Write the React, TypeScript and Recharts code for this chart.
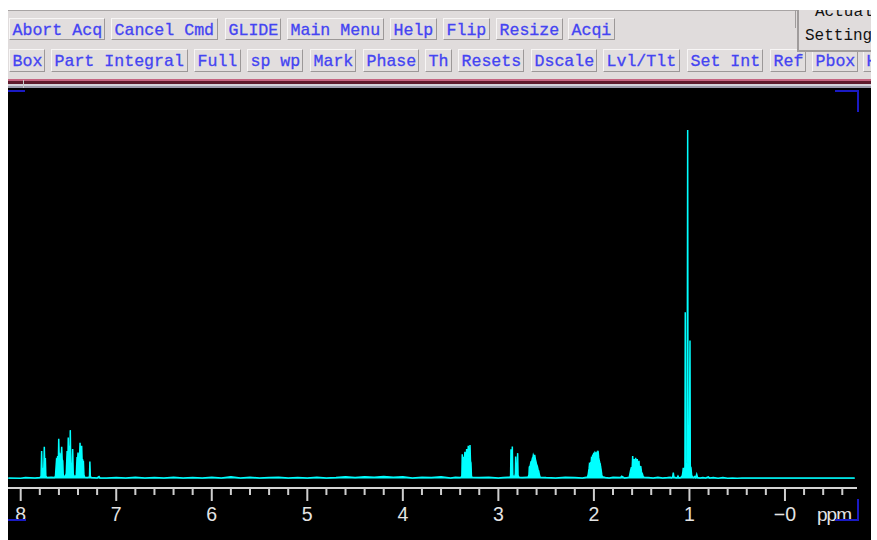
import React from "react";
import { AreaChart, Area, XAxis, YAxis } from "recharts";

// ---- spectrum data: [shift (ppm), intensity (tallest line = 100)] ----
const aromatic: [number, number][] = [
  [8.13, 0.2], [8.0, 0.1], [7.95, 0.3], [7.85, 0.2], [7.8, 0.3],
  [7.787, 0.6], [7.781, 7.9], [7.776, 2.5], [7.767, 2.8], [7.758, 3.0],
  [7.753, 9.1], [7.748, 4.0], [7.742, 5.9], [7.737, 0.8], [7.725, 0.3],
  [7.68, 0.4], [7.645, 0.3], [7.636, 0.8], [7.625, 5.4], [7.617, 5.0],
  [7.613, 6.5], [7.605, 6.0], [7.602, 11.4], [7.597, 6.0], [7.592, 7.4],
  [7.586, 5.5], [7.581, 6.5], [7.576, 5.8], [7.571, 9.1], [7.566, 5.5],
  [7.56, 5.1], [7.555, 1.2], [7.545, 0.5], [7.53, 0.8], [7.523, 1.5],
  [7.514, 7.9], [7.508, 2.0], [7.502, 11.8], [7.496, 2.5], [7.491, 9.4],
  [7.486, 2.5], [7.481, 13.9], [7.475, 1.5], [7.47, 4.5], [7.463, 1.0],
  [7.456, 8.5], [7.45, 1.2], [7.44, 0.7], [7.425, 0.6], [7.418, 1.2],
  [7.41, 6.2], [7.405, 5.0], [7.4, 7.5], [7.395, 5.2], [7.39, 6.8],
  [7.385, 5.4], [7.379, 10.3], [7.374, 5.5], [7.369, 7.9], [7.365, 5.6],
  [7.362, 9.4], [7.357, 5.0], [7.353, 5.6], [7.347, 4.5], [7.344, 5.1],
  [7.338, 1.0], [7.33, 0.4], [7.3, 0.3], [7.28, 0.5], [7.276, 4.9],
  [7.271, 0.6], [7.26, 0.3], [7.2, 0.2], [7.18, 0.6], [7.17, 0.2],
];

const midField: [number, number][] = [
  [7.1, 0.2], [7.0, 0.3], [6.9, 0.2], [6.8, 0.4], [6.7, 0.2], [6.6, 0.3],
  [6.5, 0.2], [6.4, 0.4], [6.3, 0.2], [6.2, 0.3], [6.1, 0.2], [6.0, 0.4],
  [5.9, 0.2], [5.8, 0.5], [5.7, 0.2], [5.6, 0.4], [5.5, 0.2], [5.4, 0.3],
  [5.3, 0.4], [5.2, 0.2], [5.1, 0.3], [5.0, 0.2], [4.9, 0.4], [4.8, 0.2],
  [4.7, 0.3], [4.6, 0.5], [4.5, 0.3], [4.4, 0.5], [4.3, 0.4], [4.2, 0.6],
  [4.1, 0.4], [4.0, 0.5], [3.9, 0.2], [3.8, 0.4], [3.7, 0.3], [3.6, 0.5],
  [3.5, 0.2], [3.45, 0.4], [3.4, 0.3],
];

const multiplet33: [number, number][] = [
  [3.39, 0.4], [3.382, 0.8], [3.378, 7.0], [3.373, 5.0], [3.367, 5.6],
  [3.363, 5.2], [3.36, 6.2], [3.355, 5.4], [3.35, 7.7], [3.345, 5.4],
  [3.339, 5.6], [3.336, 5.5], [3.332, 8.5], [3.328, 5.8], [3.324, 6.5],
  [3.32, 6.0], [3.315, 9.4], [3.31, 6.0], [3.306, 6.5], [3.302, 6.0],
  [3.297, 9.6], [3.292, 5.0], [3.287, 4.5], [3.282, 0.8], [3.276, 0.4],
  [3.2, 0.3], [3.1, 0.4], [3.0, 0.2], [2.95, 0.3], [2.9, 0.4],
];

const multiplet285: [number, number][] = [
  [2.878, 0.4], [2.872, 0.8], [2.868, 8.4], [2.864, 3.6], [2.86, 3.6],
  [2.857, 3.8], [2.854, 9.2], [2.849, 1.0], [2.84, 0.5], [2.826, 0.8],
  [2.822, 1.5], [2.819, 6.3], [2.815, 2.8], [2.81, 2.8], [2.803, 2.5],
  [2.798, 7.3], [2.794, 0.9], [2.785, 0.4], [2.75, 0.3], [2.7, 0.4],
];

const multiplet263: [number, number][] = [
  [2.69, 0.4], [2.68, 1.0], [2.676, 3.3], [2.667, 3.6], [2.659, 4.8],
  [2.65, 5.0], [2.643, 5.9], [2.638, 6.0], [2.634, 6.7], [2.627, 6.2],
  [2.62, 6.8], [2.613, 5.6], [2.606, 4.8], [2.6, 4.0], [2.593, 3.6],
  [2.585, 2.6], [2.578, 2.2], [2.57, 1.0], [2.562, 0.4], [2.5, 0.3],
  [2.4, 0.2], [2.3, 0.4], [2.2, 0.3], [2.12, 0.2], [2.08, 0.4],
];

const multiplet20: [number, number][] = [
  [2.067, 0.4], [2.059, 1.3], [2.05, 3.0], [2.046, 4.2], [2.04, 4.0],
  [2.034, 4.6], [2.028, 4.8], [2.025, 5.9], [2.02, 5.8], [2.014, 6.5],
  [2.008, 6.3], [2.003, 7.1], [1.996, 6.9], [1.989, 7.5], [1.982, 7.2],
  [1.976, 7.3], [1.97, 7.2], [1.965, 7.6], [1.96, 7.3], [1.955, 7.5],
  [1.95, 6.0], [1.944, 5.1], [1.939, 4.6], [1.934, 4.2], [1.93, 3.4],
  [1.926, 2.8], [1.918, 1.2], [1.912, 0.5], [1.88, 0.3], [1.84, 0.2],
  [1.8, 0.4], [1.72, 0.3], [1.709, 0.7], [1.68, 0.2], [1.65, 0.3],
];

const multiplet155: [number, number][] = [
  [1.63, 0.4], [1.617, 2.2], [1.607, 3.3], [1.6, 2.5], [1.594, 6.5],
  [1.589, 3.0], [1.586, 3.3], [1.577, 5.6], [1.572, 3.0], [1.568, 3.3],
  [1.563, 6.0], [1.558, 3.0], [1.553, 3.3], [1.546, 5.6], [1.541, 2.6],
  [1.536, 2.8], [1.528, 5.1], [1.524, 2.5], [1.52, 2.8], [1.51, 3.6],
  [1.502, 1.9], [1.492, 1.3], [1.485, 0.6], [1.476, 0.4], [1.43, 0.3],
  [1.38, 0.2], [1.33, 0.4], [1.28, 0.2], [1.23, 0.3], [1.2, 0.4],
  [1.19, 0.2], [1.175, 0.5], [1.169, 1.7], [1.163, 0.5], [1.15, 0.3],
  [1.13, 0.2], [1.12, 0.7], [1.11, 0.2], [1.09, 0.3], [1.075, 0.8],
];

const methylLines: [number, number][] = [
  [1.068, 2.0], [1.0645, 3.1], [1.058, 2.0], [1.05, 2.5], [1.047, 3.5],
  [1.0435, 47.7], [1.04, 3.0], [1.033, 2.5], [1.029, 2.7], [1.024, 4.5],
  [1.0184, 100], [1.015, 5.0], [1.012, 6.0], [1.002, 3.5], [0.9943, 39.6],
  [0.991, 3.5], [0.984, 3.1], [0.977, 1.0], [0.97, 0.5], [0.96, 0.3],
  [0.945, 0.6], [0.935, 0.3], [0.924, 1.2], [0.915, 0.3], [0.89, 0.2],
  [0.86, 0.3], [0.83, 0.2], [0.803, 0.5], [0.79, 0.2],
];

const upfield: [number, number][] = [
  [0.75, 0.3], [0.7, 0.1], [0.65, 0.3], [0.6, 0.1], [0.55, 0.2],
  [0.5, 0.1], [0.45, 0.2], [0.4, 0.2], [0.2, 0.2], [0.0, 0.2],
  [-0.2, 0.2], [-0.4, 0.2], [-0.6, 0.2], [-0.73, 0.2],
];

const majorTicks = [8, 7, 6, 5, 4, 3, 2, 1, 0];
const allTicks = [
  8, 7.8, 7.6, 7.4, 7.2, 7, 6.8, 6.6, 6.4, 6.2, 6, 5.8, 5.6, 5.4, 5.2, 5,
  4.8, 4.6, 4.4, 4.2, 4, 3.8, 3.6, 3.4, 3.2, 3, 2.8, 2.6, 2.4, 2.2, 2, 1.8,
  1.6, 1.4, 1.2, 1, 0.8, 0.6, 0.4, 0.2, 0, -0.2, -0.4, -0.6,
];

const row1 = [
  { label: "Abort Acq", x: 9, w: 96 },
  { label: "Cancel Cmd", x: 111, w: 107 },
  { label: "GLIDE", x: 225, w: 56 },
  { label: "Main Menu", x: 287, w: 97 },
  { label: "Help", x: 390, w: 47 },
  { label: "Flip", x: 443, w: 47 },
  { label: "Resize", x: 496, w: 67 },
  { label: "Acqi", x: 568, w: 47 },
];
const row2 = [
  { label: "Box", x: 9, w: 36 },
  { label: "Part Integral", x: 51, w: 137 },
  { label: "Full", x: 194, w: 47 },
  { label: "sp wp", x: 247, w: 56 },
  { label: "Mark", x: 310, w: 46 },
  { label: "Phase", x: 363, w: 56 },
  { label: "Th", x: 425, w: 27 },
  { label: "Resets", x: 458, w: 66 },
  { label: "Dscale", x: 531, w: 66 },
  { label: "Lvl/Tlt", x: 603, w: 77 },
  { label: "Set Int", x: 687, w: 76 },
  { label: "Ref", x: 770, w: 36 },
  { label: "Pbox", x: 812, w: 46 },
  { label: "Hold", x: 863, w: 46 },
];

const spectrum = [
  ...aromatic, ...midField, ...multiplet33, ...multiplet285, ...multiplet263,
  ...multiplet20, ...multiplet155, ...methylLines, ...upfield,
]
  .sort((a, b) => b[0] - a[0])
  .map(([ppm, intensity]) => ({ ppm, intensity }));

const MONO = "'Liberation Mono', 'DejaVu Sans Mono', monospace";
const SANS = "'Liberation Sans', Arial, sans-serif";
const BLUE = "#1a1ac4";

function ToolButton({ label, x, y, w, h }: { label: string; x: number; y: number; w: number; h: number }) {
  return (
    <div
      style={{
        position: "absolute",
        left: x,
        top: y,
        width: w,
        height: h,
        boxSizing: "border-box",
        background: "#e2dede",
        borderTop: "1px solid #f8f6f6",
        borderLeft: "1px solid #f8f6f6",
        borderRight: "1px solid #9c9898",
        borderBottom: "1px solid #9c9898",
        color: "#4444f2",
        fontFamily: MONO,
        fontSize: 16.6,
        lineHeight: "20px",
        paddingTop: 1.6,
        paddingLeft: 2.5,
        whiteSpace: "pre",
        overflow: "hidden",
        WebkitTextStroke: "0.3px #4444f2",
      }}
    >
      {label}
    </div>
  );
}

function PpmTick(props: any) {
  const { x, y, payload } = props;
  const v = payload.value as number;
  const major = majorTicks.includes(v);
  return (
    <g>
      <line x1={x} x2={x} y1={y} y2={y + (major ? 13 : 7)} stroke="#cfcfcf" strokeWidth={2} />
      {major && (
        <text x={x} y={y + 33} textAnchor="middle" fill="#e4e4e4" fontSize={19.5} fontFamily={SANS}>
          {v === 0 ? "−0" : String(v)}
        </text>
      )}
    </g>
  );
}

function Line({ l, t, w, h, c }: { l: number; t: number; w: number; h: number; c: string }) {
  return <div style={{ position: "absolute", left: l, top: t, width: w, height: h, background: c }} />;
}

export default function App() {
  return (
    <div
      style={{
        position: "fixed",
        left: 0,
        top: 0,
        width: 877,
        height: 540,
        overflow: "hidden",
        background: "#ffffff",
      }}
    >
      {/* toolbar, clipped at the window edge like the original */}
      <div
        style={{
          position: "absolute",
          left: 0,
          top: 0,
          width: 871,
          height: 88,
          overflow: "hidden",
        }}
      >
        <div
          style={{
            position: "absolute",
            left: 8,
            top: 10,
            width: 863,
            height: 69,
            background: "#e0dcdc",
            borderTop: "1px solid #a8a4a4",
            boxSizing: "border-box",
          }}
        />
        {row1.map((b) => (
          <ToolButton key={b.label} label={b.label} x={b.x} y={18} w={b.w} h={22} />
        ))}
        {row2.map((b) => (
          <ToolButton key={b.label} label={b.label} x={b.x} y={49} w={b.w} h={23} />
        ))}

        {/* Actual / Setting box */}
        <div
          style={{
            position: "absolute",
            left: 797,
            top: 10,
            width: 80,
            height: 42,
            boxSizing: "border-box",
            background: "#e0dcdc",
            borderLeft: "2px solid #a09c9c",
            borderBottom: "2px solid #a09c9c",
            overflow: "hidden",
            fontFamily: MONO,
            fontSize: 16,
            color: "#111",
          }}
        >
          <div style={{ position: "absolute", left: 16, top: -7, lineHeight: "18px", whiteSpace: "pre" }}>Actual</div>
          <div style={{ position: "absolute", left: 6, top: 17, lineHeight: "18px", whiteSpace: "pre" }}>Setting</div>
        </div>
        <Line l={795} t={10} w={1} h={18} c="#a09c9c" />

        {/* separator bands */}
        <Line l={8} t={79} w={863} h={2} c="#c46480" />
        <Line l={8} t={81} w={863} h={2.5} c="#5e1a2c" />
        <Line l={8} t={83.5} w={863} h={2.5} c="#d2d2da" />
        <Line l={8} t={86} w={863} h={2} c="#9a9aaa" />
        <Line l={23} t={80} w={1} h={8} c="#c8c8c8" />
      </div>

      {/* plot background */}
      <Line l={8} t={88} w={863} h={452} c="#000000" />

      <div style={{ position: "absolute", left: 8, top: 88 }}>
        <AreaChart
          width={863}
          height={452}
          data={spectrum}
          margin={{ top: 42, right: 14, bottom: 0, left: 0 }}
        >
          <XAxis
            type="number"
            dataKey="ppm"
            domain={[-0.754, 8.133]}
            reversed
            allowDataOverflow
            ticks={allTicks}
            interval={0}
            tickSize={0}
            tickMargin={0}
            tickLine={false}
            height={52}
            axisLine={{ stroke: "#d4d4d4", strokeWidth: 2 }}
            tick={<PpmTick />}
          />
          <YAxis type="number" domain={[-2.7, 100]} hide allowDataOverflow />
          <Area
            type="linear"
            dataKey="intensity"
            baseValue={0}
            stroke="#00ffff"
            strokeWidth={1.5}
            fill="#00ffff"
            fillOpacity={1}
            dot={false}
            activeDot={false}
            isAnimationActive={false}
          />
        </AreaChart>
      </div>

      <div
        style={{
          position: "absolute",
          left: 817,
          top: 505,
          fontFamily: SANS,
          fontSize: 19,
          lineHeight: "19px",
          letterSpacing: -1,
          color: "#e4e4e4",
        }}
      >
        ppm
      </div>

      {/* blue corner markers */}
      <Line l={8} t={90} w={17} h={2} c={BLUE} />
      <Line l={835} t={90} w={24} h={2} c={BLUE} />
      <Line l={857} t={90} w={2} h={22} c={BLUE} />
      <Line l={8} t={519} w={18} h={2} c={BLUE} />
      <Line l={835} t={519} w={24} h={2} c={BLUE} />
      <Line l={857} t={499} w={2} h={22} c={BLUE} />
    </div>
  );
}
